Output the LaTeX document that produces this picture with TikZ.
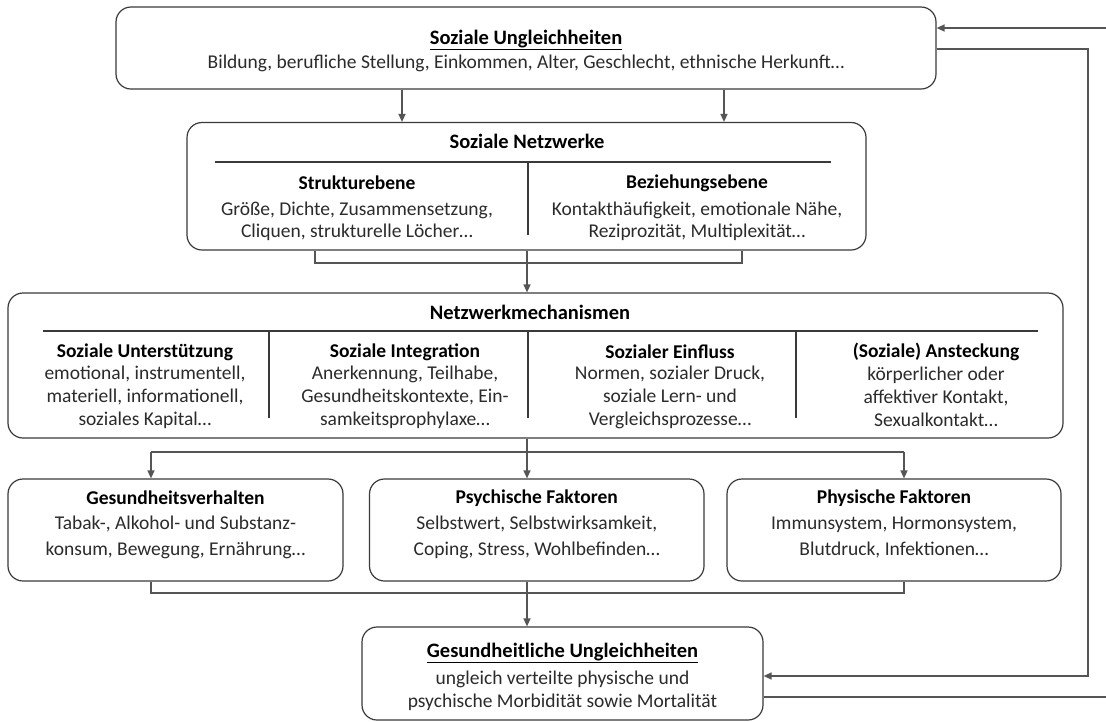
\documentclass[tikz,border=0pt]{standalone}
\usepackage{fontspec}
\setmainfont{Carlito}
\usetikzlibrary{arrows.meta,calc}
\definecolor{boxc}{HTML}{3A3A3A}
\definecolor{connc}{HTML}{555555}
\definecolor{txtc}{HTML}{2B2B2B}
\begin{document}
\begin{tikzpicture}[x=1pt,y=-1pt,
  box/.style={draw=boxc, line width=1.2pt, rounded corners=15pt, inner sep=0pt, fill=none},
  inner/.style={draw=boxc, line width=1.1pt},
  conn/.style={draw=connc, line width=1.4pt},
  arr/.style={conn, -{Triangle[length=8pt,width=7pt]}},
  ttl/.style={inner sep=0pt, text=black, font=\bfseries\fontsize{20.5}{24}\selectfont},
  hdg/.style={inner sep=0pt, text=black, font=\bfseries\fontsize{19.5}{23}\selectfont},
  body/.style={inner sep=0pt, text=txtc, align=center, font=\fontsize{19.5}{23}\selectfont},
]
\useasboundingbox (0,0) rectangle (1106,721);
\fill[white] (0,0) rectangle (1106,721);

% ---------- boxes ----------
\node[box, minimum width=820pt, minimum height=82pt] (b1) at (526,48) {};
\node[box, minimum width=679pt, minimum height=127.5pt] (b2) at (526.5,186.25) {};
\node[box, minimum width=1055pt, minimum height=145pt] (b3) at (535.5,365.5) {};
\node[box, minimum width=335pt, minimum height=102pt] (b4a) at (175.5,530) {};
\node[box, minimum width=334.5pt, minimum height=102pt] (b4b) at (536.75,530) {};
\node[box, minimum width=334pt, minimum height=102pt] (b4c) at (894,530) {};
\node[box, minimum width=401pt, minimum height=93pt] (b5) at (562.5,673.5) {};

% ---------- box 1 ----------
\node[ttl] (t1) at (526,40) {\underline{Soziale Ungleichheiten}};
\node[body] (d1) at (526,63) {Bildung, berufliche Stellung, Einkommen, Alter, Geschlecht, ethnische Herkunft…};

% ---------- box 2 ----------
\node[ttl] (t2) at (527,141) {Soziale Netzwerke};
\draw[inner] (215,162) -- (831,162);
\draw[inner] (528,162) -- (528,235);
\node[hdg] (h2a) at (357,183) {Strukturebene};
\node[body, font=\fontsize{19.5}{22}\selectfont] (d2a) at (357,221) {Größe, Dichte, Zusammensetzung,\\Cliquen, strukturelle Löcher…};
\node[hdg] (h2b) at (697,183) {Beziehungsebene};
\node[body, font=\fontsize{19.5}{22}\selectfont] (d2b) at (697,221) {Kontakthäufigkeit, emotionale Nähe,\\Reziprozität, Multiplexität…};

% ---------- box 3 ----------
\node[ttl] (t3) at (530,312) {Netzwerkmechanismen};
\draw[inner] (43,331) -- (1038,331);
\foreach \xx in {269,528,796} \draw[inner] (\xx,331) -- (\xx,418);
\node[hdg] (h3a) at (145,352) {Soziale Unterstützung};
\node[body] (d3a) at (145,397) {emotional, instrumentell,\\materiell, informationell,\\soziales Kapital…};
\node[hdg] (h3b) at (405,352) {Soziale Integration};
\node[body] (d3b) at (405,397) {Anerkennung, Teilhabe,\\Gesundheitskontexte, Ein-\\samkeitsprophylaxe…};
\node[hdg] (h3c) at (670,352) {Sozialer Einfluss};
\node[body] (d3c) at (670,397) {Normen, sozialer Druck,\\soziale Lern- und\\Vergleichsprozesse…};
\node[hdg] (h3d) at (936,352) {(Soziale) Ansteckung};
\node[body] (d3d) at (936,397) {körperlicher oder\\affektiver Kontakt,\\Sexualkontakt…};

% ---------- row 4 ----------
\node[hdg] (h4a) at (175.5,498) {Gesundheitsverhalten};
\node[body, font=\fontsize{19.5}{26}\selectfont] (d4a) at (175.5,537) {Tabak-, Alkohol- und Substanz-\\konsum, Bewegung, Ernährung…};
\node[hdg] (h4b) at (536.75,498) {Psychische Faktoren};
\node[body, font=\fontsize{19.5}{26}\selectfont] (d4b) at (536.75,537) {Selbstwert, Selbstwirksamkeit,\\Coping, Stress, Wohlbefinden…};
\node[hdg] (h4c) at (894,498) {Physische Faktoren};
\node[body, font=\fontsize{19.5}{26}\selectfont] (d4c) at (894,537) {Immunsystem, Hormonsystem,\\Blutdruck, Infektionen…};

% ---------- box 5 ----------
\node[ttl] (t5) at (562.5,653) {\underline{Gesundheitliche Ungleichheiten}};
\node[body] (d5) at (562.5,690.5) {ungleich verteilte physische und\\psychische Morbidität sowie Mortalität};

% ---------- helper coordinates ----------
\coordinate (xa) at (402,0);
\coordinate (xb) at (724,0);
\coordinate (xc) at (527,0);
\coordinate (xl2) at (315,263);
\coordinate (xr2) at (742,263);
\coordinate (xl4) at (151,452);
\coordinate (xr4) at (904,452);
\coordinate (yl4) at (151,593);
\coordinate (yr4) at (904,593);
\coordinate (fb1) at (1106,28);
\coordinate (fc1) at (1088,49);
\coordinate (fc2) at (1088,676);
\coordinate (fb2) at (1106,697);

% ---------- connectors ----------
\draw[arr] (b1.south -| xa) -- (b2.north -| xa);
\draw[arr] (b1.south -| xb) -- (b2.north -| xb);

\draw[conn] (b2.south -| xl2) -- (xl2) -- (xr2) -- (b2.south -| xr2);
\draw[arr] (b2.south -| xc) -- (b3.north -| xc);

\draw[arr] (b3.south -| xc) -- (b4b.north -| xc);
\draw[conn] (xl4) -- (xr4);
\draw[arr] (xl4) -- (b4a.north -| xl4);
\draw[arr] (xr4) -- (b4c.north -| xr4);

\draw[conn] (b4a.south -| yl4) -- (yl4) -- (yr4) -- (b4c.south -| yr4);
\draw[arr] (b4b.south -| xc) -- (b5.north -| xc);

\draw[arr] (fb1) -- (b1.east |- fb1);
\draw[arr] (b1.east |- fc1) -- (fc1) -- (fc2) -- (b5.east |- fc2);
\draw[conn] (b5.east |- fb2) -- (fb2);
\end{tikzpicture}
\end{document}
